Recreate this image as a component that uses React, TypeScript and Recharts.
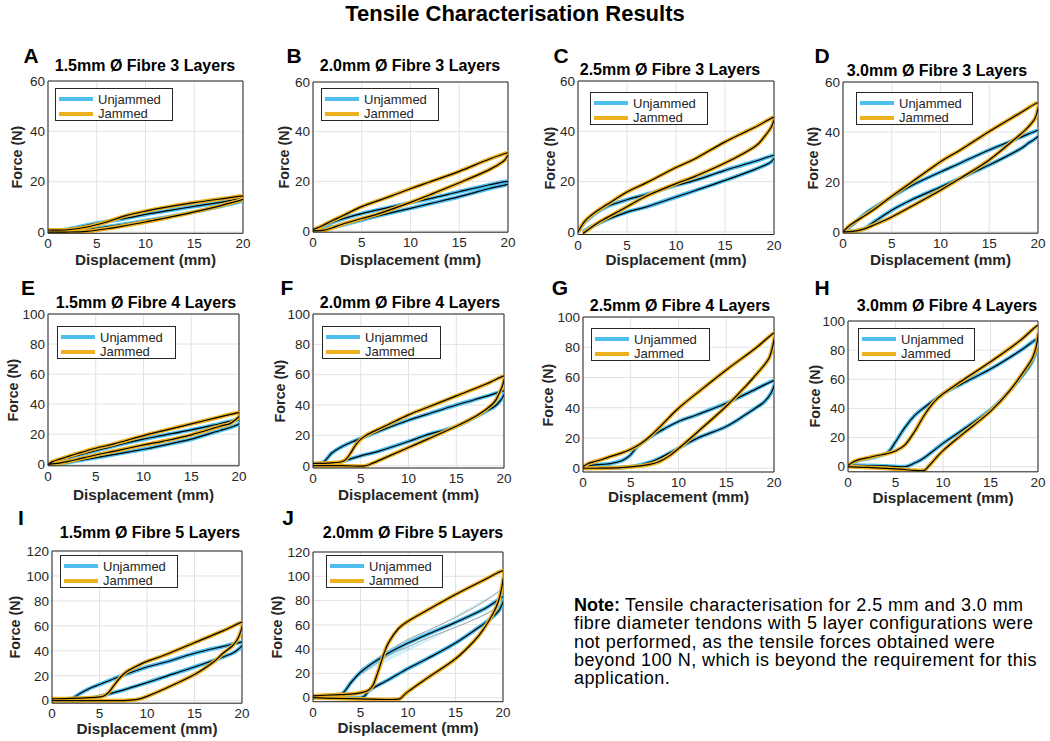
import React from 'react';
import { ComposedChart, Line, Area, XAxis, YAxis, CartesianGrid, ReferenceLine } from 'recharts';

const FONT = '"Liberation Sans", Arial, Helvetica, sans-serif';
const BLUE = '#4DBEEE';
const ORANGE = '#EDB120';
const AXIS = '#262626';

type P = [number, number];

const xTicks = [0, 5, 10, 15, 20];
const yTicks60 = [0, 20, 40, 60];
const yTicks100 = [0, 20, 40, 60, 80, 100];
const yTicks120 = [0, 20, 40, 60, 80, 100, 120];

const aUnjammed: P[] = [[0,0],[1,0.5],[2,1.1],[3,1.9],[5,3.5],[8,5.5],[10,7],[12,8.3],[15,10.2],[18,12],[20,13.5],[20,12.5],[18,10.5],[15,8],[12,5.8],[10,4.5],[8,3.2],[5,1.5],[3,0.5],[1,0],[0,0]];
const aJammed: P[] = [[0,0.8],[2,0.9],[4,2],[6,4],[8,6.5],[10,8.3],[12,9.8],[15,11.7],[18,13.3],[20,14.3],[20,13],[18,10.8],[15,8],[12,5.5],[10,4],[8,2.6],[6,1.3],[4,0.3],[2,0],[0,0]];

const bUnjammed: P[] = [[0,0],[1,1.8],[2,3.5],[3,4.8],[5,7],[7,8.8],[10,11.4],[12,13],[15,15.8],[18,18.5],[20,20],[20,18.9],[18,17],[15,13.8],[12,11],[10,9.1],[7,6.4],[5,4.4],[3,2.4],[2,1.5],[1,0.6],[0,0]];
const bJammed: P[] = [[0,0.5],[1,2.2],[2,4.2],[3,6],[5,9.8],[7,12.6],[10,17],[12,19.8],[15,24],[18,28.8],[20,31.5],[20,30.5],[19.5,28],[18,24.5],[15,19.4],[12,14.6],[10,11.5],[7,7.3],[5,5],[3,2.7],[2,1.3],[1,0.2],[0,0]];

const cUnjammed: P[] = [[0,0],[0.3,2],[0.6,3.5],[1,5],[2,8],[3,10.2],[5,12.8],[7,15],[10,18.5],[12,20.6],[15,24.5],[18,28],[20,30.5],[20,29.1],[19.5,27.3],[18,24.8],[15,20.5],[12,16.5],[10,13.9],[7,10],[5,7.9],[3,5],[2,3.3],[1,1.3],[0.5,0]];
const cJammed: P[] = [[0,0],[0.3,2],[0.6,3.8],[1,5.5],[2,8.5],[3,11],[5,15.9],[7,19.6],[10,25.6],[12,29.2],[15,35.8],[18,41.5],[20,45.7],[20,44.4],[19.7,41.5],[19,37.8],[18,33.8],[15,27.4],[12,22.2],[10,19.2],[7,14.3],[5,10],[3,5.8],[2,3.6],[1,0.8],[0.5,-0.6]];

const dUnjammed: P[] = [[0,0],[1,3],[2.5,8],[5,14],[7,18.5],[10,24],[12,27.5],[15,32.8],[18,37.5],[20,40.6],[20,38.2],[19,35.5],[18,32.8],[15,26.8],[12,21.5],[10,18],[7,12.8],[5,8.7],[3,3.5],[2.5,2],[2,1],[1,0.3],[0,0]];
const dJammed: P[] = [[0,0],[0.5,2],[1,3.5],[3,8.5],[5,14.3],[7,19.8],[10,28.1],[12,32.7],[15,40.2],[18,47.2],[20,51.8],[20,49.5],[19.7,45.5],[19,42],[18,38.4],[15,28.8],[12,21.4],[10,16.7],[7,10.2],[5,6],[3,2.5],[2,1],[1,0.2],[0,0]];

const eUnjammed: P[] = [[0,0],[1,2.3],[2,4],[3,5.8],[5,9.1],[7,12.3],[10,16.7],[12,19.2],[15,22.9],[18,27],[20,29.6],[20,26.9],[19,24.3],[18,22.5],[15,16.7],[12,12.6],[10,10],[7,6.6],[5,4.4],[3,2.3],[2,1.1],[1,0.3],[0,0]];
const eJammed: P[] = [[0,0],[0.5,1.8],[1,3],[2,5],[3,7],[5,10.7],[7,13.7],[10,19.1],[12,22.2],[15,26.9],[18,31.5],[20,34.4],[20,31.8],[19.5,29],[19,26.9],[18,25.3],[15,19.6],[12,15.3],[10,12.9],[7,8.8],[5,6.2],[3,3.2],[2,1.8],[1,0.6],[0,0]];

const fUnjammed: P[] = [[0,1],[1,2],[1.5,5],[2,8.5],[3,12.5],[4,15.5],[5,18],[7,23],[10,30],[12,34],[15,40],[18,45.5],[20,49.3],[20,46.7],[19.5,42],[19,39],[18,35.5],[15,26],[12,20.5],[10,16],[7,9.8],[5,6.5],[3,2.6],[2,0.6],[1,0.2],[0,0]];
const fJammed: P[] = [[0,1.5],[1,1.6],[2,1.9],[3,2.6],[3.5,4.5],[4,9],[4.5,14],[5,17.5],[5.5,19.8],[6,21.5],[7,24.5],[8,27.5],[10,33.5],[12,38.5],[15,46],[18,53.5],[20,59.2],[20,56.6],[19.8,52],[19.5,47.8],[19,42],[18,36.5],[17,32.5],[15,26],[12,17.5],[10,12],[8,6.5],[7,3.7],[6,1],[5.5,0],[5,-0.3],[3,0],[0,0]];

const gUnjammed: P[] = [[0,0],[1,2],[2,2.5],[3,3.2],[4,4.8],[4.5,6.5],[5,9],[5.5,13],[6,16],[7,20.5],[8,24.3],[10,30.9],[12,35.5],[15,43],[18,52],[20,58],[20,54.5],[19.7,49.7],[19,44],[18,39.5],[17,35.3],[15,27.6],[12,19.9],[10,13.2],[8,6.6],[7,4],[6,2.2],[5,1],[4,0.4],[2,0.2],[0,0]];
const gJammed: P[] = [[0,1],[0.5,3],[1,4],[2,5.8],[3,8],[4,10],[5,12.5],[6,16],[7,21],[8,27],[9,33.5],[10,39.7],[12,50],[15,65],[18,79],[20,89.4],[20,85],[19.8,79],[19.5,73],[19,68.4],[18,61],[17,54],[15,41],[12,24],[10,13],[9,8],[8,4.4],[7,2.5],[6,1.5],[4,0.4],[2,0],[0,0]];

const hUnjammed: P[] = [[0,0],[0.5,2.5],[1,4],[2,5.5],[3,7],[4,9],[4.5,12],[5,17],[6,27],[7,35],[8,40.5],[10,50],[12,57],[15,67],[18,79],[20,88],[20,83],[19.7,77],[19,68],[17,52],[15,39],[12,25],[10,16],[8,6],[7,2.5],[6,0],[4,0.5],[2,0.8],[0,1]];
const hJammed: P[] = [[0,1],[0.5,3],[1,4.5],[2,6],[3,7.5],[4,8.8],[5,10.8],[6,15],[7,24],[8,35],[9,44],[10,50],[12,59],[15,72],[18,86],[20,97],[20,90],[19.8,82],[19.5,76],[19,70],[17,52],[15,38],[12,22],[10,11],[9,4],[8.3,-1],[8,-2.5],[7,-2.5],[5,-1.5],[2,-0.5],[0,0]];

const iUnjammed: P[] = [[0,1],[1,1.2],[2,1.5],[2.5,3.5],[3,6],[4,10],[5,13],[7,19],[10,27],[12,31],[15,38],[18,43.5],[20,47],[20,44],[19.5,40.5],[19,38],[18,35],[15,27],[12,19.5],[10,14.5],[7,7.5],[5,3.5],[4,1.5],[3,0],[0,0]];
const iJammed: P[] = [[0,1.5],[2,1.8],[4,2.4],[5,3],[5.5,4],[6,7],[6.5,12],[7,17],[7.5,21],[8,24],[9,28],[10,31.5],[12,37],[15,46.5],[18,56],[20,63],[20,59],[19.8,54],[19.5,49],[19,44],[18,38],[17,31],[15,21],[12,10],[10,3.5],[9,1],[8,0.3],[5,0],[0,0]];

const jUnjammed: P[] = [[0,1],[2,2],[3,3],[3.5,7],[4,12.5],[5,21],[6,27],[7,32],[8,37],[10,45],[12,52],[15,62],[18,73],[20,83],[20,79],[19.8,75],[19.5,71],[19,67],[18,61],[15,45],[12,32],[10,24],[8,15],[6,6.5],[5.5,2],[5,0],[3,0],[0,0.5]];
const jJammed: P[] = [[0,1.5],[2,2.3],[4,3],[5,4],[5.8,6],[6.3,10],[6.7,18],[7,25],[7.5,37],[8,46],[9,57],[10,63],[12,72],[15,85],[18,97],[20,104.5],[20,97],[19.8,88],[19.5,79],[19,70],[18,57],[17,47],[15,32],[12,16],[10,5],[9.3,0],[9,-1.2],[8,-1.5],[5,-1],[2,-0.5],[0,0]];
const jUnjammedBandX = [5, 8, 10, 12, 15, 18, 20];
const jUnjammedBandLow = [19, 35, 42, 49, 58, 68, 77];
const jUnjammedBandHigh = [23, 39, 48, 55, 66, 79, 90];

const titles = [
  '1.5mm Ø Fibre 3 Layers', '2.0mm Ø Fibre 3 Layers', '2.5mm Ø Fibre 3 Layers', '3.0mm Ø Fibre 3 Layers',
  '1.5mm Ø Fibre 4 Layers', '2.0mm Ø Fibre 4 Layers', '2.5mm Ø Fibre 4 Layers', '3.0mm Ø Fibre 4 Layers',
  '1.5mm Ø Fibre 5 Layers', '2.0mm Ø Fibre 5 Layers',
];
const letters = ['A', 'B', 'C', 'D', 'E', 'F', 'G', 'H', 'I', 'J'];
const seriesNames = ['Unjammed', 'Jammed'];
const noteLines = [
  'Tensile characterisation for 2.5 mm and 3.0 mm',
  'fibre diameter tendons with 5 layer configurations were',
  'not performed, as the tensile forces obtained were',
  'beyond 100 N, which is beyond the requirement for this',
  'application.',
];

type Layout = { L: number; T: number; R: number; B: number; yMin: number; yMax: number; ticks: number[];
  letter: [number, number]; title: [number, number]; legend: [number, number, number]; forceX: number; dispY: number };

const layouts: Layout[] = [
  { L: 48, T: 81, R: 243, B: 233.3, yMin: -0.5, yMax: 60, ticks: yTicks60, letter: [31, 55], title: [145, 66], legend: [55, 88, 118], forceX: 17, dispY: 260 },
  { L: 313, T: 82, R: 508, B: 232.2, yMin: -0.5, yMax: 60, ticks: yTicks60, letter: [294, 55], title: [410, 66], legend: [321, 88, 118], forceX: 284, dispY: 260 },
  { L: 578, T: 81, R: 774, B: 234.5, yMin: -1, yMax: 60, ticks: yTicks60, letter: [561, 55], title: [670, 70], legend: [590, 92, 118], forceX: 550, dispY: 260 },
  { L: 843, T: 82, R: 1038, B: 233.2, yMin: -0.5, yMax: 60, ticks: yTicks60, letter: [822, 55], title: [937, 71], legend: [856, 92, 117], forceX: 813, dispY: 260 },
  { L: 48, T: 314, R: 239, B: 465.8, yMin: -1, yMax: 100, ticks: yTicks100, letter: [28, 287], title: [146, 303], legend: [57, 326, 119], forceX: 13, dispY: 495 },
  { L: 313, T: 314, R: 504, B: 468, yMin: -1.5, yMax: 100, ticks: yTicks100, letter: [287, 287], title: [410, 303], legend: [322, 326, 119], forceX: 280, dispY: 495 },
  { L: 583, T: 317, R: 774, B: 472, yMin: -2.5, yMax: 100, ticks: yTicks100, letter: [560, 287], title: [680, 306], legend: [591, 328, 119], forceX: 548, dispY: 497 },
  { L: 848, T: 321, R: 1038, B: 471.8, yMin: -3.5, yMax: 100, ticks: yTicks100, letter: [822, 287], title: [947, 306], legend: [858, 328, 117], forceX: 815, dispY: 498 },
  { L: 52, T: 551, R: 242, B: 703.2, yMin: -2, yMax: 120, ticks: yTicks120, letter: [21, 517], title: [150, 533], legend: [60, 555, 118], forceX: 15, dispY: 729 },
  { L: 313, T: 552, R: 503, B: 701.7, yMin: -3.3, yMax: 120, ticks: yTicks120, letter: [288, 517], title: [413, 533], legend: [326, 555, 117], forceX: 277, dispY: 728 },
];

const seriesData: [P[], P[]][] = [
  [aUnjammed, aJammed], [bUnjammed, bJammed], [cUnjammed, cJammed], [dUnjammed, dJammed],
  [eUnjammed, eJammed], [fUnjammed, fJammed], [gUnjammed, gJammed], [hUnjammed, hJammed],
  [iUnjammed, iJammed], [jUnjammed, jJammed],
];

const toRows = (pts: P[]) => pts.map(([x, y]) => ({ x, y }));

// Catmull-Rom style smooth curve factory
const smooth: any = (context: any) => {
  let pts: number[][] = [];
  return {
    areaStart() {}, areaEnd() {},
    lineStart() { pts = []; },
    point(x: number, y: number) { pts.push([+x, +y]); },
    lineEnd() {
      if (!pts.length) return;
      context.moveTo(pts[0][0], pts[0][1]);
      for (let i = 0; i < pts.length - 1; i++) {
        const p0 = pts[i - 1] || pts[i];
        const p1 = pts[i];
        const p2 = pts[i + 1];
        const p3 = pts[i + 2] || p2;
        const t = 1 / 6;
        context.bezierCurveTo(
          p1[0] + (p2[0] - p0[0]) * t, p1[1] + (p2[1] - p0[1]) * t,
          p2[0] - (p3[0] - p1[0]) * t, p2[1] - (p3[1] - p1[1]) * t,
          p2[0], p2[1]);
      }
    },
  };
};

const tickStyle = { fontSize: 13.5, fill: AXIS, fontFamily: FONT };

function Panel({ idx }: { idx: number }) {
  const lay = layouts[idx];
  const [unj, jam] = seriesData[idx];
  const padL = 40, padR = 12, padT = 10, padB = 24;
  const width = lay.R - lay.L + padL + padR;
  const height = lay.B - lay.T + padT + padB;
  const band = idx === 9
    ? jUnjammedBandX.map((x, i) => ({ x, r: [jUnjammedBandLow[i], jUnjammedBandHigh[i]], lo: jUnjammedBandLow[i], hi: jUnjammedBandHigh[i] }))
    : null;
  return (
    <div style={{ position: 'absolute', left: lay.L - padL, top: lay.T - padT }}>
      <ComposedChart width={width} height={height} margin={{ top: padT, right: padR, left: 0, bottom: 0 }}>
        <CartesianGrid stroke="#e2e2e2" strokeWidth={1} />
        <XAxis type="number" dataKey="x" domain={[0, 20]} ticks={xTicks} interval={0} height={padB}
          tickLine={false} tickSize={0} axisLine={{ stroke: AXIS }} tick={tickStyle} tickMargin={5.5} allowDataOverflow />
        <YAxis type="number" domain={[lay.yMin, lay.yMax]} ticks={lay.ticks} interval={0} width={padL}
          tickLine={false} tickSize={0} axisLine={{ stroke: AXIS }} tick={tickStyle} tickMargin={3} allowDataOverflow />
        <ReferenceLine y={lay.yMax} stroke={AXIS} strokeWidth={1} />
        <ReferenceLine x={20} stroke={AXIS} strokeWidth={1} />
        {band && (
          <Area data={band} dataKey="r" type={smooth} stroke="none" fill={BLUE} fillOpacity={0.25} isAnimationActive={false} />
        )}
        {band && (
          <Line data={band} dataKey="lo" type={smooth} stroke="#8a8a8a" strokeWidth={0.8} dot={false} isAnimationActive={false} />
        )}
        {band && (
          <Line data={band} dataKey="hi" type={smooth} stroke="#8a8a8a" strokeWidth={0.8} dot={false} isAnimationActive={false} />
        )}
        <Line data={toRows(unj)} dataKey="y" name={seriesNames[0]} type={smooth} stroke={BLUE} strokeWidth={4} dot={false} isAnimationActive={false} />
        <Line data={toRows(unj)} dataKey="y" type={smooth} stroke="#000" strokeWidth={1.2} dot={false} isAnimationActive={false} />
        <Line data={toRows(jam)} dataKey="y" name={seriesNames[1]} type={smooth} stroke={ORANGE} strokeWidth={4} dot={false} isAnimationActive={false} />
        <Line data={toRows(jam)} dataKey="y" type={smooth} stroke="#000" strokeWidth={1.2} dot={false} isAnimationActive={false} />
      </ComposedChart>
    </div>
  );
}

function Labels({ idx }: { idx: number }) {
  const lay = layouts[idx];
  const cx = (lay.L + lay.R) / 2;
  const cy = (lay.T + lay.B) / 2;
  const [lx, ly, lw] = lay.legend;
  const common: React.CSSProperties = { position: 'absolute', fontFamily: FONT, color: '#000', whiteSpace: 'nowrap', lineHeight: 1 };
  return (
    <>
      <div style={{ ...common, left: lay.letter[0], top: lay.letter[1], transform: 'translate(-50%,-50%)', fontSize: 21, fontWeight: 'bold' }}>{letters[idx]}</div>
      <div style={{ ...common, left: lay.title[0], top: lay.title[1], transform: 'translate(-50%,-50%)', fontSize: 16, fontWeight: 'bold' }}>{titles[idx]}</div>
      <div style={{ ...common, left: cx, top: lay.dispY, transform: 'translate(-50%,-50%)', fontSize: 15.3, fontWeight: 'bold', color: AXIS }}>Displacement (mm)</div>
      <div style={{ ...common, left: lay.forceX, top: cy, transform: 'translate(-50%,-50%) rotate(-90deg)', fontSize: 14.3, fontWeight: 'bold', color: AXIS }}>Force (N)</div>
      <div style={{ position: 'absolute', left: lx, top: ly, width: lw, height: 33, boxSizing: 'border-box', border: `1px solid ${AXIS}`, background: '#fff', fontFamily: FONT, fontSize: 13, color: AXIS }}>
        {seriesNames.map((n, i) => (
          <div key={n} style={{ position: 'absolute', left: 3, top: 3 + i * 14.5, height: 14, display: 'flex', alignItems: 'center' }}>
            <div style={{ width: 34, height: 4, background: i === 0 ? BLUE : ORANGE, marginRight: 5 }} />
            <span>{n}</span>
          </div>
        ))}
      </div>
    </>
  );
}

export default function App() {
  return (
    <div style={{ position: 'absolute', left: 0, top: 0, width: 1050, height: 741, background: '#fff', fontFamily: FONT }}>
      <div style={{ position: 'absolute', left: 515, top: 14, transform: 'translate(-50%,-50%)', fontSize: 22, fontWeight: 'bold', whiteSpace: 'nowrap', lineHeight: 1 }}>
        Tensile Characterisation Results
      </div>
      {layouts.map((_, i) => <Panel key={`p${i}`} idx={i} />)}
      {layouts.map((_, i) => <Labels key={`l${i}`} idx={i} />)}
      {noteLines.map((line, i) => (
        <div key={`n${i}`} style={{ position: 'absolute', left: 574, top: 605 + i * 18.3, transform: 'translateY(-50%)', fontSize: 18, lineHeight: 1, letterSpacing: 0.42, color: '#000', whiteSpace: 'nowrap' }}>
          {i === 0 && <b style={{ letterSpacing: 0 }}>Note: </b>}
          {line}
        </div>
      ))}
    </div>
  );
}
